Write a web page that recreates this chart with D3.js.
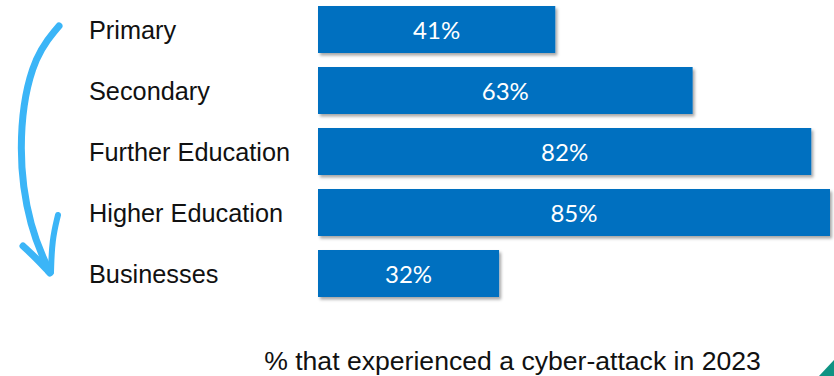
<!DOCTYPE html>
<html>
<head>
<meta charset="utf-8">
<script src="https://cdn.jsdelivr.net/npm/d3@7"></script>
<style>
html,body{margin:0;padding:0;background:#fff;}
svg{display:block;}
</style>
</head>
<body>
<svg id="chart" width="834" height="376"></svg>
<script>
const categories = ["Primary", "Secondary", "Further Education", "Higher Education", "Businesses"];
const values = [41, 63, 82, 85, 32];
const valueLabels = ["41%", "63%", "82%", "85%", "32%"];
const title = "% that experienced a cyber-attack in 2023";

const svg = d3.select("#chart");
const defs = svg.append("defs");
const f = defs.append("filter").attr("id", "shadow").attr("x", "-5%").attr("y", "-20%").attr("width", "115%").attr("height", "160%");
f.append("feDropShadow").attr("dx", 2).attr("dy", 2.5).attr("stdDeviation", 1.5).attr("flood-color", "#000").attr("flood-opacity", 0.35);

const x = d3.scaleLinear().domain([3, 85]).range([318, 830]);
const y = d3.scaleBand().domain(categories).range([-1, 304]).paddingInner(14 / 61).paddingOuter(7 / 61);

const g = svg.append("g");
g.selectAll("rect.bar").data(categories).join("rect")
  .attr("class", "bar")
  .attr("x", x(3))
  .attr("y", d => y(d))
  .attr("width", (d, i) => x(values[i]) - x(3))
  .attr("height", y.bandwidth())
  .attr("fill", "#0070C0")
  .attr("filter", "url(#shadow)");

g.selectAll("text.val").data(categories).join("text")
  .attr("class", "val")
  .attr("x", (d, i) => (x(3) + x(values[i])) / 2)
  .attr("y", d => y(d) + y.bandwidth() / 2 + 1)
  .attr("dy", "0.36em")
  .attr("text-anchor", "middle")
  .attr("fill", "#fff")
  .attr("font-family", "Lato, 'Open Sans', sans-serif")
  .attr("font-size", 24)
  .text((d, i) => valueLabels[i]);

g.selectAll("text.cat").data(categories).join("text")
  .attr("class", "cat")
  .attr("x", 89)
  .attr("y", d => y(d) + y.bandwidth() / 2)
  .attr("dy", "0.36em")
  .attr("fill", "#111")
  .attr("font-family", "'Liberation Sans', Arial, sans-serif")
  .attr("font-size", 25.3)
  .text(d => d);

svg.append("text")
  .attr("x", 512.5)
  .attr("y", 370)
  .attr("text-anchor", "middle")
  .attr("fill", "#111")
  .attr("font-family", "'Liberation Sans', Arial, sans-serif")
  .attr("font-size", 26.6)
  .text(title);

// decorative arrow
const arrowLine = d3.line().curve(d3.curveBasis);
svg.append("path")
  .attr("d", arrowLine([[59, 26], [30, 60], [17, 150], [30, 230], [50, 272]]))
  .attr("fill", "none").attr("stroke", "#3BB5F7").attr("stroke-width", 7).attr("stroke-linecap", "round");
svg.append("path")
  .attr("d", arrowLine([[23, 246], [36, 258], [50, 273]]))
  .attr("fill", "none").attr("stroke", "#3BB5F7").attr("stroke-width", 7).attr("stroke-linecap", "round");
svg.append("path")
  .attr("d", arrowLine([[58, 215], [52, 240], [51, 272]]))
  .attr("fill", "none").attr("stroke", "#3BB5F7").attr("stroke-width", 6).attr("stroke-linecap", "round");

// corner triangle
svg.append("path").attr("d", "M819,376 L834,360 L834,376 Z").attr("fill", "#0E9383");
</script>
</body>
</html>
